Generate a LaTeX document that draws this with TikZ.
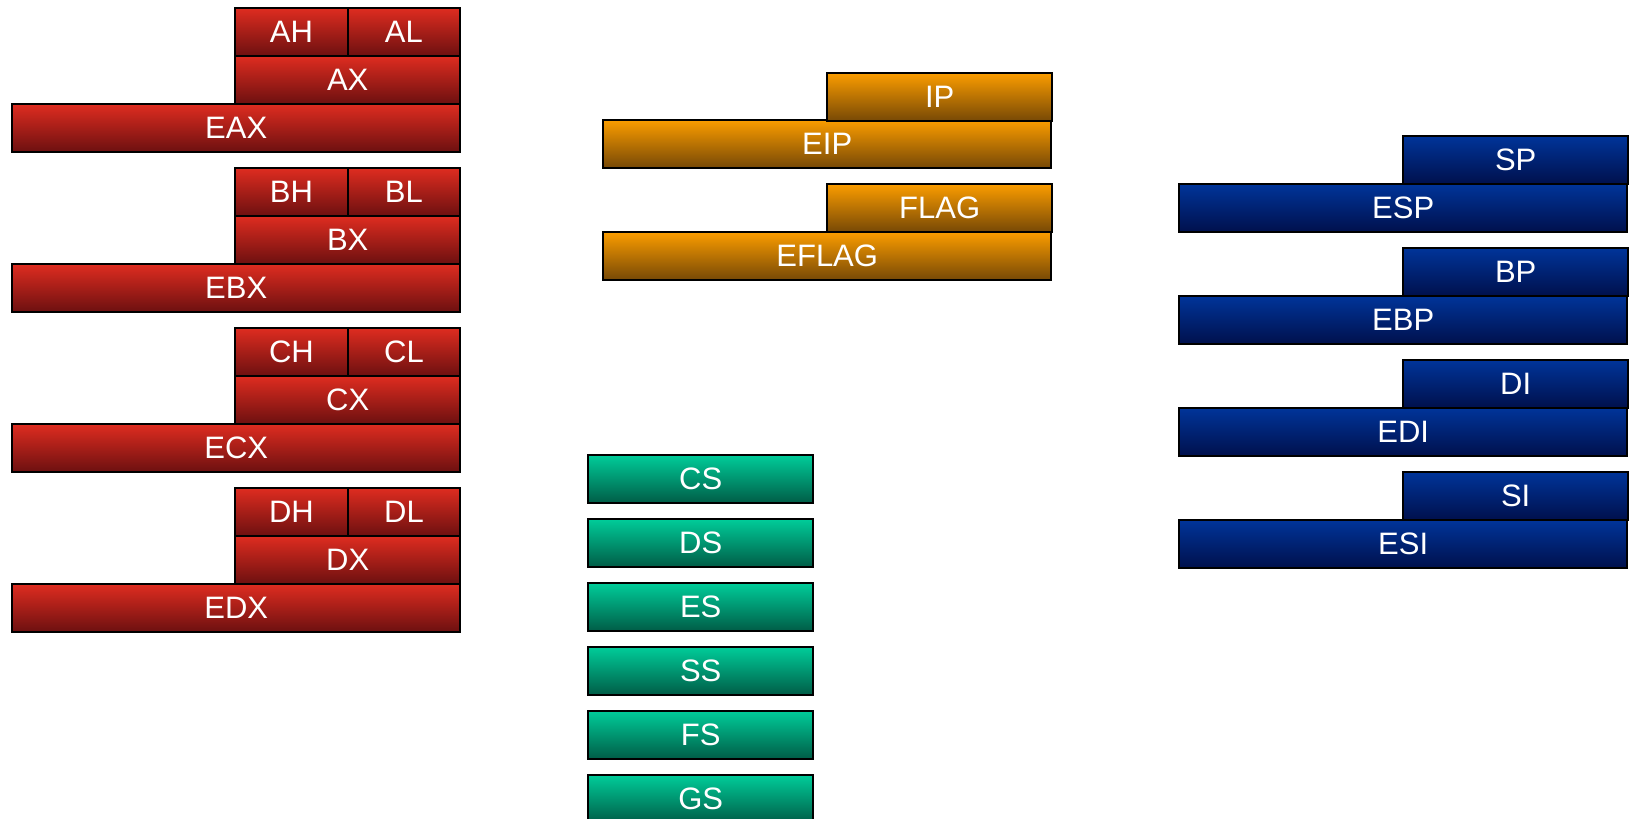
\documentclass[tikz,border=0pt]{standalone}
\usepackage{fontspec}
\setmainfont{Liberation Sans}
\begin{document}
\begin{tikzpicture}[x=1pt,y=-1pt,
  reg/.style={draw=black,line width=2.4pt,rectangle,anchor=north west,
    inner sep=0pt,minimum height=48pt,text=white,font=\fontsize{31}{31}\selectfont,
    shading=axis,shading angle=0},
  gpr/.style={reg,top color={rgb,255:red,222;green,44;blue,32},bottom color={rgb,255:red,108;green,16;blue,16}},
  ctl/.style={reg,top color={rgb,255:red,250;green,156;blue,0},bottom color={rgb,255:red,118;green,72;blue,6}},
  seg/.style={reg,top color={rgb,255:red,0;green,204;blue,153},bottom color={rgb,255:red,0;green,92;blue,70}},
  ptr/.style={reg,top color={rgb,255:red,0;green,52;blue,153},bottom color={rgb,255:red,0;green,16;blue,76}},
  full/.style={minimum width=448pt},
  half/.style={minimum width=225pt},
  byte/.style={minimum width=112.5pt}]
\useasboundingbox (0,0) rectangle (1634,819);
\clip (0,0) rectangle (1634,819);

% general purpose registers: 32-bit, 16-bit and 8-bit halves
\foreach \n/\y in {A/7,B/167,C/327,D/487}{
  \node[gpr,full] (E\n X) at (11,\y+96) {E\n X};
  \node[gpr,half] (\n X) at (234,\y+48) {\n X};
  \node[gpr,byte] (\n H) at (234,\y) {\n H};
  \node[gpr,byte] (\n L) at (346.5,\y) {\n L};
}

% instruction pointer and flags
\node[ctl,full] (EIP) at (602,119) {EIP};
\node[ctl,half] (IP) at (826,72) {IP};
\node[ctl,full] (EFLAG) at (602,231) {EFLAG};
\node[ctl,half] (FLAG) at (826,183) {FLAG};

% segment registers
\foreach \s/\y in {CS/454,DS/518,ES/582,SS/646,FS/710,GS/774}{
  \node[seg,half] (\s) at (587,\y) {\s};
}

% pointer and index registers
\foreach \p/\y in {SP/135,BP/247,DI/359,SI/471}{
  \node[ptr,full] (E\p) at (1178,\y+48) {E\p};
  \node[ptr,half] (\p) at (1402,\y) {\p};
}
\end{tikzpicture}
\end{document}
